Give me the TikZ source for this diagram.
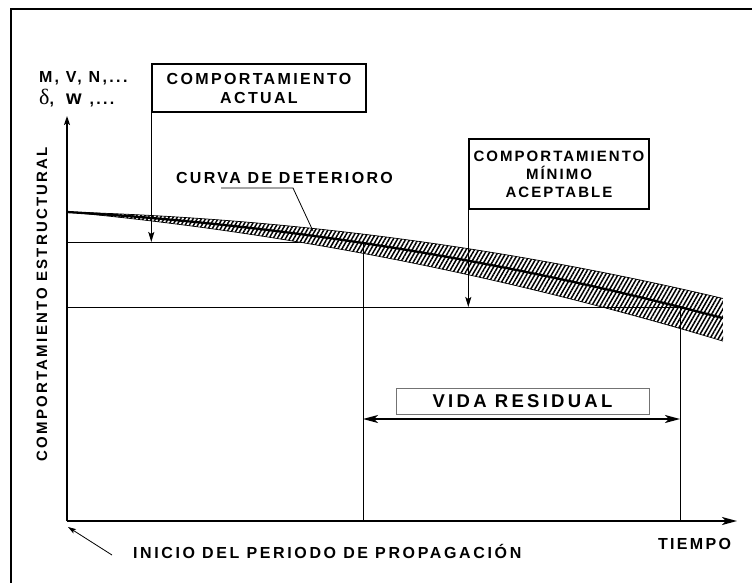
\documentclass[tikz,border=0pt]{standalone}
\usepackage{fontspec}
\setmainfont{Liberation Sans}
\newfontfamily\labA{Liberation Sans}[LetterSpace=14.7]
\newfontfamily\labB{Liberation Sans}[LetterSpace=13.5]
\newfontfamily\labC{Liberation Sans}[LetterSpace=17.6]
\newfontfamily\labD{Liberation Sans}[LetterSpace=16.5]
\newfontfamily\serifdelta{Liberation Serif}
\usetikzlibrary{arrows.meta,patterns.meta}
\begin{document}
\begin{tikzpicture}[x=1pt,y=-1pt,
  txt/.style={inner sep=0pt, outer sep=0pt, font=\labA\bfseries\fontsize{16}{19}\selectfont},
  boxA/.style={draw, line width=1.4pt, inner sep=0pt, align=center},
  axis/.style={line width=1.5pt},
  thinline/.style={line width=1pt},
  downarrow/.style={line width=1.3pt, -{Stealth[length=10pt,width=6pt,inset=2pt]}},
  bigarrow/.style={-{Stealth[length=15pt,width=8pt,inset=4pt]}},
  edge/.style={line width=0.7pt}
]
\useasboundingbox (0,0) rectangle (752,582);
% frame
\draw[line width=2pt] (11,9) rectangle (800,620);
% coordinates
\coordinate (O) at (67,521);
\coordinate (Ytip) at (67,116);
\coordinate (Xtip) at (737,521);
\coordinate (a0) at (67,242);
\coordinate (a1) at (363,242);
\coordinate (m0) at (67,307);
\coordinate (m1) at (680,307);
\coordinate (v1t) at (363,243);
\coordinate (v1b) at (363,521);
\coordinate (v2t) at (680,307);
\coordinate (v2b) at (680,521);
\coordinate (r0) at (363,419);
\coordinate (r1) at (680,419);
\coordinate (c1) at (221,188);
\coordinate (c2) at (293,188);
\coordinate (c3) at (313,231);
\coordinate (i0) at (112,555);
\coordinate (i1) at (68,527);
% axes
\draw[axis, -{Stealth[length=9pt,width=6pt,inset=2pt]}] (O) -- (Ytip);
\draw[axis, bigarrow] (O) -- (Xtip);
% current level line
\draw[thinline] (a0) -- (a1);
% deterioration band
\path[fill=white, postaction={pattern={Lines[angle=60,distance=3.6pt,line width=1.5pt]}}]
  plot[domain=0:6.56,samples=60] ({67+100*\x},{212+2.77*\x+1.587*\x*\x})
  -- plot[domain=6.56:0,samples=60] ({67+100*\x},{212+9.27*\x+1.587*\x*\x}) -- cycle;
\draw[edge] plot[domain=0:6.56,samples=60] ({67+100*\x},{212+2.77*\x+1.587*\x*\x});
\draw[edge] plot[domain=0:6.56,samples=60] ({67+100*\x},{212+9.27*\x+1.587*\x*\x});
\draw[line width=2.3pt] plot[domain=0:6.56,samples=60] ({67+100*\x},{212+5.77*\x+1.587*\x*\x});
% minimum line and verticals
\draw[thinline] (m0) -- (m1);
\draw[thinline] (v1t) -- (v1b);
\draw[thinline] (v2t) -- (v2b);
% residual life arrow
\draw[line width=1.3pt, {Stealth[length=15pt,width=8pt,inset=4pt]}-{Stealth[length=15pt,width=8pt,inset=4pt]}] (r0) -- (r1);
% boxes
\node[boxA, minimum width=214pt, minimum height=48pt, font=\labA\bfseries\fontsize{16}{19}\selectfont] (b1) at (259,88) {COMPORTAMIENTO\\ACTUAL};
\node[boxA, minimum width=180pt, minimum height=70pt, font=\labB\bfseries\fontsize{15}{18}\selectfont] (b2) at (559,174) {COMPORTAMIENTO\\MÍNIMO\\ACEPTABLE};
\node[draw=black!55, line width=0.8pt, inner sep=0pt, minimum width=253pt, minimum height=26pt, font=\labC\bfseries\fontsize{18.5}{20}\selectfont] (b3) at (522.5,401) {VIDA RESIDUAL\hspace{14pt}};
\draw[downarrow] (b1.south west) -- (b1.south west |- a0);
\draw[downarrow] (b2.south west) -- (b2.south west |- m0);
% curve label
\node[txt, anchor=base west] (curva) at (176,183) {CURVA DE DETERIORO};
\draw[line width=0.8pt] (c1) -- (c2) -- (c3);
% axis labels
\node[txt, anchor=base west] (tiempo) at (658,549) {TIEMPO};
\node[txt, anchor=base west, font=\labD\bfseries\fontsize{16}{19}\selectfont] (inicio) at (133,558) {INICIO DEL PERIODO DE PROPAGACIÓN};
\draw[line width=0.8pt, -{Stealth[length=8pt,width=5pt,inset=1.5pt]}] (i0) -- (i1);
\node[txt, anchor=base west] (mvn) at (39,82) {M, V, N,...};
\node[inner sep=0pt, anchor=base west] (dw) at (39,104) {{\serifdelta\fontsize{22}{22}\selectfont δ}{\labA\bfseries\fontsize{16}{16}\selectfont ,\hspace{12pt}{\fontsize{20}{20}\selectfont w}\hspace{8pt},...}};
\node[txt, rotate=90, anchor=base, font=\labA\bfseries\fontsize{15}{18}\selectfont] (ylab) at (47,304) {COMPORTAMIENTO ESTRUCTURAL};
\end{tikzpicture}
\end{document}
